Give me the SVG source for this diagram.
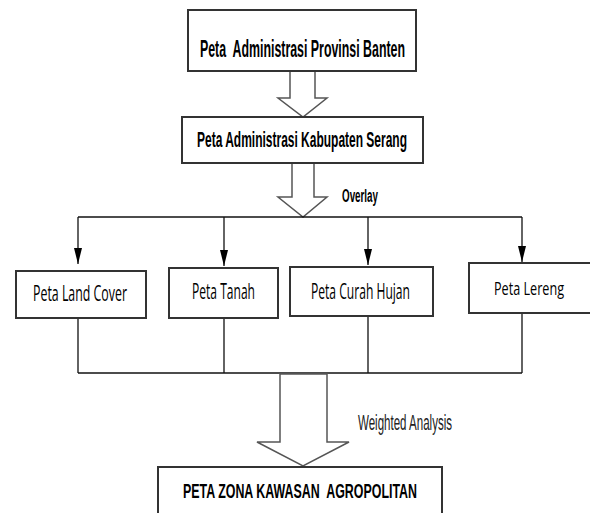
<svg xmlns="http://www.w3.org/2000/svg" width="590" height="513" viewBox="0 0 590 513">
<defs>
<marker id="ah" viewBox="0 0 16 8" refX="16" refY="4" markerWidth="16" markerHeight="8" markerUnits="userSpaceOnUse" orient="auto">
<path d="M0,0 L16,4 L0,8 Z" fill="#000"/>
</marker>
<style>
.box{fill:#fff;stroke:#333;stroke-width:2}
.hb{font-family:"Liberation Sans Narrow","Liberation Sans",Arial,sans-serif;font-weight:bold;fill:#000;text-anchor:middle}
.nt{font-family:"Open Sans","Liberation Sans",sans-serif;fill:#000;text-anchor:middle}
.ln{fill:none;stroke:#111;stroke-width:1.3}
.big{fill:#fff;stroke:#555;stroke-width:1.5}
</style>
</defs>
<rect width="590" height="513" fill="#fff"/>
<g id="connectors">
<polygon class="big" points="290,71 315,71 315,98 327,98 303,117 278,98 290,98"/>
<polygon class="big" points="292,163 314,163 314,197 327,197 303,217 278,197 292,197"/>
<path class="ln" d="M78,217 H522"/>
<path class="ln" d="M78,217 V264" marker-end="url(#ah)"/>
<path class="ln" d="M224,217 V266" marker-end="url(#ah)"/>
<path class="ln" d="M368,217 V265" marker-end="url(#ah)"/>
<path class="ln" d="M522,217 V262" marker-end="url(#ah)"/>
<path class="ln" d="M78,318 V373 M224,318 V373 M368,316 V373 M522,313 V373"/>
<path class="ln" d="M78,373 H522" stroke-width="2"/>
<polygon class="big" points="280,374 327,374 327,442 349,442 303,466 257,442 280,442"/>
<text x="342" y="202" font-family="Liberation Sans Narrow, Liberation Sans, Arial, sans-serif" font-weight="bold" font-size="18" fill="#000" textLength="36" lengthAdjust="spacingAndGlyphs">Overlay</text>
<text x="358" y="430" font-family="Liberation Sans Narrow, Liberation Sans, Arial, sans-serif" font-size="22" fill="#222" textLength="94" lengthAdjust="spacingAndGlyphs">Weighted Analysis</text>
</g>
<g id="n1">
<rect class="box" x="188" y="10" width="228" height="61"/>
<text class="hb" x="302.5" y="57" font-size="23" textLength="205" lengthAdjust="spacingAndGlyphs" xml:space="preserve">Peta  Administrasi Provinsi Banten</text>
</g>
<g id="n2">
<rect class="box" x="182" y="117" width="241" height="46"/>
<text class="hb" x="302" y="147" font-size="22" textLength="210" lengthAdjust="spacingAndGlyphs">Peta Administrasi Kabupaten Serang</text>
</g>
<g id="n3">
<rect class="box" x="16" y="271" width="130" height="47"/>
<text class="nt" x="80" y="301" font-size="21" textLength="94" lengthAdjust="spacingAndGlyphs">Peta Land Cover</text>
</g>
<g id="n4">
<rect class="box" x="169" y="268" width="109" height="50"/>
<text class="nt" x="223.5" y="299" font-size="21" textLength="63" lengthAdjust="spacingAndGlyphs">Peta Tanah</text>
</g>
<g id="n5">
<rect class="box" x="290" y="267" width="143" height="49"/>
<text class="nt" x="360.5" y="299" font-size="21" textLength="99" lengthAdjust="spacingAndGlyphs">Peta Curah Hujan</text>
</g>
<g id="n6">
<rect class="box" x="469" y="263" width="125" height="50"/>
<text class="nt" x="529" y="295" font-size="19" textLength="70" lengthAdjust="spacingAndGlyphs">Peta Lereng</text>
</g>
<g id="n7">
<rect class="box" x="158" y="467" width="284" height="60"/>
<text class="hb" x="300" y="498" font-size="21" textLength="234" lengthAdjust="spacingAndGlyphs" xml:space="preserve">PETA ZONA KAWASAN  AGROPOLITAN</text>
</g>
</svg>
